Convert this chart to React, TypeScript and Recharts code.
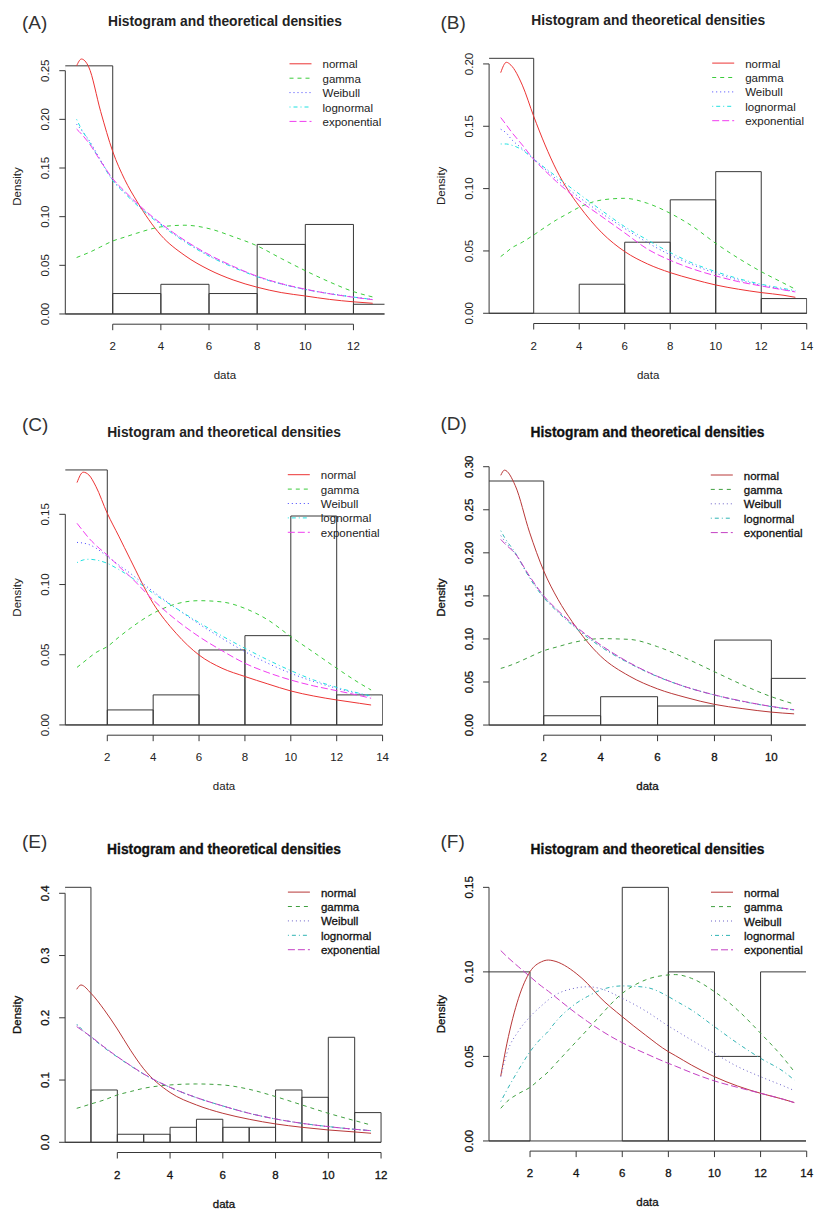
import React from 'react';
import { ComposedChart, Line, XAxis, YAxis, ReferenceArea, ReferenceLine } from 'recharts';

// (A)
const aX = [0.5, 0.7, 1, 1.5, 2, 2.5, 3, 4, 5, 6, 7, 8, 9, 10, 11, 12, 12.8];
const aNormal = [0.255, 0.262, 0.254, 0.208, 0.167, 0.138, 0.116, 0.081, 0.06, 0.0455, 0.035, 0.0275, 0.022, 0.0185, 0.015, 0.0125, 0.011];
const aGamma = [0.058, 0.06, 0.063, 0.069, 0.075, 0.079, 0.083, 0.0895, 0.0912, 0.0877, 0.0795, 0.07, 0.057, 0.0445, 0.033, 0.023, 0.0175];
const aWeibull = [0.195, 0.189, 0.179, 0.158, 0.138, 0.125, 0.113, 0.0925, 0.075, 0.06, 0.0486, 0.0385, 0.031, 0.0253, 0.021, 0.0175, 0.015];
const aLognormal = [0.2, 0.19, 0.178, 0.157, 0.137, 0.124, 0.112, 0.0915, 0.074, 0.0595, 0.048, 0.0383, 0.0308, 0.0252, 0.0208, 0.0174, 0.0148];
const aExponential = [0.19, 0.185, 0.176, 0.157, 0.139, 0.126, 0.114, 0.093, 0.0755, 0.061, 0.049, 0.0388, 0.0312, 0.0255, 0.0208, 0.0172, 0.0147];
const aBreaks = [0, 2, 4, 6, 8, 10, 12, 14];
const aDensity = [0.255, 0.021, 0.0305, 0.021, 0.0715, 0.092, 0.01];
const aXTicks = [2, 4, 6, 8, 10, 12];
const aYTicks = [0, 0.05, 0.1, 0.15, 0.2, 0.25];

// (B)
const bX = [0.55, 0.8, 1, 1.5, 2, 2.5, 3, 3.5, 4, 5, 6, 7, 8, 9, 10, 11, 12, 13, 13.5];
const bNormal = [0.193, 0.2013, 0.199, 0.183, 0.158, 0.135, 0.115, 0.099, 0.086, 0.0645, 0.0495, 0.0396, 0.0326, 0.0273, 0.0227, 0.0193, 0.0166, 0.0144, 0.0128];
const bGamma = [0.0455, 0.049, 0.052, 0.057, 0.0628, 0.069, 0.0749, 0.08, 0.085, 0.0909, 0.0922, 0.0882, 0.0802, 0.0695, 0.0561, 0.0441, 0.0334, 0.024, 0.0193];
const bWeibull = [0.1476, 0.1445, 0.14, 0.132, 0.124, 0.1157, 0.1075, 0.1, 0.093, 0.08, 0.068, 0.0567, 0.0468, 0.0388, 0.0321, 0.0267, 0.0225, 0.019, 0.0174];
const bLognormal = [0.1358, 0.1358, 0.135, 0.131, 0.1235, 0.1165, 0.1096, 0.1025, 0.0957, 0.0823, 0.0695, 0.0588, 0.0487, 0.0401, 0.0334, 0.0278, 0.0233, 0.0198, 0.0182];
const bExponential = [0.157, 0.151, 0.146, 0.135, 0.1235, 0.1143, 0.1056, 0.0978, 0.0905, 0.0775, 0.0645, 0.0515, 0.0425, 0.0355, 0.03, 0.0254, 0.0219, 0.0187, 0.0171];
const bBreaks = [0, 2, 4, 6, 8, 10, 12, 14];
const bDensity = [0.2045, 0, 0.0233, 0.057, 0.091, 0.1136, 0.0118];
const bXTicks = [2, 4, 6, 8, 10, 12, 14];
const bYTicks = [0, 0.05, 0.1, 0.15, 0.2];

// (C)
const cX = [0.68, 0.95, 1.2, 1.5, 2, 2.5, 3, 4, 5, 6, 7, 8, 9, 10, 11, 12, 13, 13.5];
const cNormal = [0.1726, 0.18, 0.178, 0.17, 0.1507, 0.1345, 0.118, 0.0866, 0.0653, 0.0498, 0.0404, 0.0345, 0.0292, 0.0242, 0.0206, 0.0178, 0.0154, 0.0142];
const cGamma = [0.041, 0.0445, 0.0478, 0.0515, 0.0558, 0.0625, 0.0688, 0.0795, 0.0862, 0.0885, 0.0876, 0.083, 0.0748, 0.0629, 0.0517, 0.0404, 0.0297, 0.0249];
const cWeibull = [0.13, 0.1295, 0.1285, 0.126, 0.12, 0.114, 0.108, 0.095, 0.0831, 0.0719, 0.0617, 0.0522, 0.0439, 0.0368, 0.0309, 0.0261, 0.0221, 0.0202];
const cLognormal = [0.1156, 0.1175, 0.118, 0.1175, 0.1151, 0.1107, 0.1056, 0.0938, 0.0831, 0.0729, 0.0634, 0.0546, 0.0463, 0.0387, 0.032, 0.0268, 0.0225, 0.0207];
const cExponential = [0.1436, 0.138, 0.133, 0.128, 0.121, 0.113, 0.1056, 0.089, 0.0748, 0.0629, 0.0529, 0.0439, 0.0373, 0.032, 0.0278, 0.0244, 0.0209, 0.019];
const cBreaks = [0, 2, 4, 6, 8, 10, 12, 14];
const cDensity = [0.1816, 0.0107, 0.0214, 0.0534, 0.0636, 0.1488, 0.0214];
const cXTicks = [2, 4, 6, 8, 10, 12, 14];
const cYTicks = [0, 0.05, 0.1, 0.15];

// (D)
const dX = [0.49, 0.62, 1, 1.5, 2, 2.5, 3, 4, 5, 6, 7, 8, 9, 10, 10.8];
const dNormal = [0.29, 0.296, 0.278, 0.224, 0.179, 0.146, 0.12, 0.08, 0.057, 0.042, 0.032, 0.024, 0.019, 0.015, 0.013];
const dGamma = [0.0658, 0.067, 0.0716, 0.079, 0.0863, 0.091, 0.0956, 0.1003, 0.0995, 0.091, 0.0774, 0.0619, 0.0465, 0.0329, 0.0244];
const dWeibull = [0.22, 0.214, 0.199, 0.172, 0.149, 0.132, 0.117, 0.092, 0.0722, 0.0565, 0.0443, 0.0349, 0.0274, 0.0215, 0.0176];
const dLognormal = [0.2257, 0.218, 0.2, 0.171, 0.148, 0.131, 0.116, 0.091, 0.0718, 0.0562, 0.0441, 0.0348, 0.0273, 0.0214, 0.0175];
const dExponential = [0.2156, 0.211, 0.199, 0.173, 0.15, 0.133, 0.118, 0.093, 0.0726, 0.0565, 0.0442, 0.035, 0.0276, 0.0216, 0.0178];
const dBreaks = [0, 2, 4, 6, 8, 10, 12];
const dDensity = [0.2834, 0.0108, 0.0329, 0.0221, 0.0987, 0.0542];
const dXTicks = [2, 4, 6, 8, 10];
const dYTicks = [0, 0.05, 0.1, 0.15, 0.2, 0.25, 0.3];

// (E)
const eX = [0.46, 0.62, 1, 1.5, 2, 2.5, 3, 4, 5, 6, 7, 8, 9, 10, 11, 11.62];
const eNormal = [0.2458, 0.2527, 0.2394, 0.213, 0.182, 0.148, 0.118, 0.08, 0.06, 0.0466, 0.037, 0.0295, 0.0241, 0.0198, 0.0166, 0.0145];
const eGamma = [0.0546, 0.0565, 0.0616, 0.068, 0.076, 0.0815, 0.0867, 0.0921, 0.0937, 0.0921, 0.0851, 0.0734, 0.06, 0.0466, 0.0348, 0.0278];
const eWeibull = [0.1885, 0.182, 0.1697, 0.153, 0.1374, 0.1232, 0.1097, 0.0883, 0.0717, 0.0583, 0.0465, 0.0374, 0.0304, 0.0251, 0.0208, 0.0186];
const eLognormal = [0.19, 0.183, 0.169, 0.152, 0.137, 0.1228, 0.1095, 0.0882, 0.0717, 0.0584, 0.0466, 0.0375, 0.0305, 0.0252, 0.0209, 0.0187];
const eExponential = [0.1858, 0.181, 0.1697, 0.153, 0.1376, 0.1234, 0.1098, 0.0884, 0.0718, 0.0584, 0.0466, 0.0375, 0.0305, 0.0252, 0.0209, 0.0187];
const eBreaks = [0, 1, 2, 3, 4, 5, 6, 7, 8, 9, 10, 11, 12];
const eDensity = [0.4096, 0.084, 0.0129, 0.0129, 0.0241, 0.037, 0.0241, 0.0241, 0.084, 0.0723, 0.1687, 0.0477];
const eXTicks = [2, 4, 6, 8, 10, 12];
const eYTicks = [0, 0.1, 0.2, 0.3, 0.4];

// (F)
const fX = [0.73, 1, 1.5, 2, 2.5, 2.8, 3, 4, 4.5, 5, 6, 7, 8, 8.3, 9, 10, 11, 12, 13, 13.46];
const fNormal = [0.0384, 0.0578, 0.0844, 0.1001, 0.106, 0.107, 0.1066, 0.0991, 0.093, 0.0854, 0.0735, 0.0627, 0.0528, 0.0505, 0.0449, 0.038, 0.0325, 0.0282, 0.0246, 0.0227];
const fGamma = [0.0193, 0.0233, 0.028, 0.0317, 0.0375, 0.041, 0.044, 0.0587, 0.066, 0.0735, 0.0873, 0.0952, 0.0982, 0.0984, 0.0962, 0.0883, 0.0775, 0.0637, 0.0489, 0.041];
const fWeibull = [0.038, 0.052, 0.065, 0.0735, 0.08, 0.0835, 0.0855, 0.0905, 0.0912, 0.0903, 0.0844, 0.077, 0.068, 0.0655, 0.0597, 0.0518, 0.044, 0.038, 0.0325, 0.0298];
const fLognormal = [0.0233, 0.0302, 0.042, 0.0528, 0.061, 0.065, 0.0686, 0.0814, 0.0855, 0.0889, 0.0917, 0.0909, 0.0854, 0.083, 0.0775, 0.0676, 0.0578, 0.0489, 0.041, 0.0361];
const fExponential = [0.1126, 0.109, 0.103, 0.0972, 0.0915, 0.0885, 0.0863, 0.0755, 0.0706, 0.066, 0.0581, 0.0518, 0.0459, 0.0443, 0.0404, 0.0355, 0.0317, 0.0282, 0.0246, 0.0227];
const fBreaks = [0, 2, 4, 6, 8, 10, 12, 14];
const fDensity = [0.1, 0, 0, 0.15, 0.1, 0.05, 0.1];
const fXTicks = [2, 4, 6, 8, 10, 12, 14];
const fYTicks = [0, 0.05, 0.1, 0.15];

const seriesKeys = ['normal', 'gamma', 'weibull', 'lognormal', 'exponential'];
const seriesNames = ['normal', 'gamma', 'Weibull', 'lognormal', 'exponential'];
const dashes = [undefined, '4 4', '1 3', '1 3 4 3', '7 3'];
const brightColors = ['#ec3434', '#3ccc3c', '#4646ff', '#1ee0e0', '#f03cf0'];
const darkColors = ['#b83838', '#40a040', '#6a60c8', '#30b4b4', '#c440c4'];

const FONT = '"Liberation Sans", Arial, Helvetica, sans-serif';
const AXIS_W = 30;
const AXIS_H = 30;

const panels = [
  { label: '(A)', left: 0, top: 0, width: 405, height: 400, labelPos: [22, 28.5],
    plot: { L: 65.3, R: 384.5, T: 48.8, B: 324.2 }, xDomain: [0.03, 13.29], yDomain: [-0.0105, 0.2725], digits: 2,
    x: aX, curves: [aNormal, aGamma, aWeibull, aLognormal, aExponential],
    breaks: aBreaks, density: aDensity, xTicks: aXTicks, yTicks: aYTicks, heavy: false },
  { label: '(B)', left: 405, top: 0, width: 410, height: 400, labelPos: [35.5, 28.5],
    plot: { L: 84.1, R: 402.2, T: 48.1, B: 323.5 }, xDomain: [0.04, 14.02], yDomain: [-0.0082, 0.2127], digits: 2,
    x: bX, curves: [bNormal, bGamma, bWeibull, bLognormal, bExponential],
    breaks: bBreaks, density: bDensity, xTicks: bXTicks, yTicks: bYTicks, heavy: false },
  { label: '(C)', left: 0, top: 400, width: 405, height: 400, labelPos: [22, 31],
    plot: { L: 65.3, R: 382.8, T: 59.7, B: 335.2 }, xDomain: [0.17, 14.01], yDomain: [-0.0073, 0.1889], digits: 2,
    x: cX, curves: [cNormal, cGamma, cWeibull, cLognormal, cExponential],
    breaks: cBreaks, density: cDensity, xTicks: cXTicks, yTicks: cYTicks, heavy: false },
  { label: '(D)', left: 405, top: 400, width: 410, height: 400, labelPos: [35.5, 29.5],
    plot: { L: 84.1, R: 400.8, T: 60, B: 335.2 }, xDomain: [0.08, 11.21], yDomain: [-0.0118, 0.3078], digits: 2,
    x: dX, curves: [dNormal, dGamma, dWeibull, dLognormal, dExponential],
    breaks: dBreaks, density: dDensity, xTicks: dXTicks, yTicks: dYTicks, heavy: true },
  { label: '(E)', left: 0, top: 800, width: 405, height: 410, labelPos: [22, 47.5],
    plot: { L: 65.1, R: 382.9, T: 77.1, B: 352.5 }, xDomain: [0.02, 12.07], yDomain: [-0.0164, 0.426], digits: 1,
    x: eX, curves: [eNormal, eGamma, eWeibull, eLognormal, eExponential],
    breaks: eBreaks, density: eDensity, xTicks: eXTicks, yTicks: eYTicks, heavy: true },
  { label: '(F)', left: 405, top: 800, width: 410, height: 410, labelPos: [35.5, 47.5],
    plot: { L: 84, R: 401, T: 77.2, B: 351.1 }, xDomain: [0.22, 13.97], yDomain: [-0.006, 0.156], digits: 2,
    x: fX, curves: [fNormal, fGamma, fWeibull, fLognormal, fExponential],
    breaks: fBreaks, density: fDensity, xTicks: fXTicks, yTicks: fYTicks, heavy: true },
];

const Panel = ({ p }: { p: any }) => {
  const { L, R, T, B } = p.plot;
  const colors = p.heavy ? darkColors : brightColors;
  const ink = p.heavy ? '#111' : '#222';
  const thick = p.heavy ? { stroke: ink, strokeWidth: 0.3 } : {};
  const lineColor = '#383838';

  const rows = p.x.map((x: number, i: number) => {
    const row: any = { x };
    seriesKeys.forEach((k, j) => { row[k] = p.curves[j][i]; });
    return row;
  });

  const margin = { top: T, right: p.width - R, bottom: p.height - B - AXIS_H, left: L - AXIS_W };
  const lastX = p.xTicks[p.xTicks.length - 1];
  const lastY = p.yTicks[p.yTicks.length - 1];

  const XTick = ({ x, y, payload }: any) => (
    <text x={x} y={y + 20} textAnchor="middle" fontSize={11.5} fontFamily={FONT} fill={ink} {...thick}>
      {payload.value}
    </text>
  );
  const YTick = ({ x, y, payload }: any) => (
    <text x={x - 10} y={y} transform={`rotate(-90 ${x - 10} ${y})`} textAnchor="middle" fontSize={11.5}
      fontFamily={FONT} fill={ink} {...thick}>
      {Number(payload.value).toFixed(p.digits)}
    </text>
  );

  return (
    <div style={{ position: 'absolute', left: p.left, top: p.top, width: p.width, height: p.height }}>
      <ComposedChart width={p.width} height={p.height} data={rows} margin={margin}>
        <XAxis type="number" dataKey="x" domain={p.xDomain} allowDataOverflow ticks={p.xTicks} interval={0}
          tickSize={6} tickMargin={0} axisLine={false} tickLine={{ stroke: lineColor }} tick={XTick} height={AXIS_H} />
        <YAxis type="number" domain={p.yDomain} allowDataOverflow ticks={p.yTicks} interval={0}
          tickSize={6} tickMargin={0} axisLine={false} tickLine={{ stroke: lineColor }} tick={YTick} width={AXIS_W} />
        {p.density.map((h: number, i: number) => h > 0 ? (
          <ReferenceArea key={i} x1={p.breaks[i]} x2={p.breaks[i + 1]} y1={0} y2={h} ifOverflow="hidden"
            fill="none" fillOpacity={0} stroke={lineColor} strokeWidth={1} />
        ) : null)}
        <ReferenceLine segment={[{ x: p.breaks[0], y: 0 }, { x: p.breaks[p.breaks.length - 1], y: 0 }]}
          ifOverflow="hidden" stroke={lineColor} />
        <ReferenceLine segment={[{ x: p.xTicks[0], y: p.yDomain[0] }, { x: lastX, y: p.yDomain[0] }]}
          ifOverflow="visible" stroke={lineColor} />
        <ReferenceLine segment={[{ x: p.xDomain[0], y: 0 }, { x: p.xDomain[0], y: lastY }]}
          ifOverflow="visible" stroke={lineColor} />
        {seriesKeys.map((k, j) => (
          <Line key={k} type="monotone" dataKey={k} stroke={colors[j]} strokeWidth={1} strokeDasharray={dashes[j]}
            dot={false} activeDot={false} isAnimationActive={false} />
        ))}
      </ComposedChart>

      <svg width={p.width} height={p.height} style={{ position: 'absolute', left: 0, top: 0, pointerEvents: 'none' }}
        fontFamily={FONT}>
        <text x={p.labelPos[0]} y={p.labelPos[1]} fontSize={19} fill="#333">{p.label}</text>
        <text x={(L + R) / 2} y={T - 23} textAnchor="middle" fontSize={13.8} fontWeight="bold" fill={ink} {...thick}>
          Histogram and theoretical densities
        </text>
        <text x={L - 44.4} y={(T + B) / 2} transform={`rotate(-90 ${L - 44.4} ${(T + B) / 2})`} textAnchor="middle"
          fontSize={11.5} fill={ink} {...thick}>Density</text>
        <text x={(L + R) / 2} y={B + 55} textAnchor="middle" fontSize={11.5} fill={ink} {...thick}>data</text>
        {seriesNames.map((name, j) => {
          const ry = T + 15 + j * 14.4;
          return (
            <g key={name}>
              <line x1={R - 95} x2={R - 73} y1={ry} y2={ry} stroke={colors[j]} strokeWidth={1}
                strokeDasharray={dashes[j]} />
              <text x={R - 62} y={ry + 4.5} fontSize={11.5} fill={ink} {...thick}>{name}</text>
            </g>
          );
        })}
      </svg>
    </div>
  );
};

export default function App() {
  return (
    <div style={{ position: 'absolute', left: 0, top: 0, width: 815, height: 1210, overflow: 'hidden', background: '#fff' }}>
      {panels.map((p) => <Panel key={p.label} p={p} />)}
    </div>
  );
}
